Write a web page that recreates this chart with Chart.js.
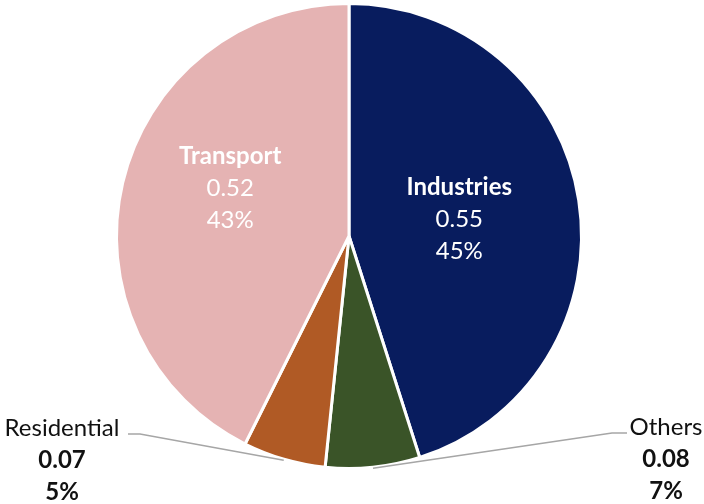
<!DOCTYPE html>
<html>
<head>
<meta charset="utf-8">
<title>Energy use by sector</title>
<script src="https://cdn.jsdelivr.net/npm/chart.js@4"></script>
<style>
  html, body { margin: 0; padding: 0; background: #fff; }
  #wrap { width: 704px; height: 504px; }
</style>
</head>
<body>
<div id="wrap"><canvas id="pie"></canvas></div>
<script>
const sectors = ['Industries', 'Others', 'Residential', 'Transport'];
const consumption = [0.55, 0.08, 0.07, 0.52];
const shareLabels = ['45%', '7%', '5%', '43%'];
const sliceColors = ['#081c5e', '#3a5428', '#b05a25', '#e5b3b3'];

// how each slice gets its label: inside at a fraction of the radius,
// or outside with a leader line running to an elbow and a text block
const labelStyle = [
  { inside: true, frac: 0.48, turn: 0 },
  { inside: false, elbow: [612, 433], tail: 627, textX: 666 },
  { inside: false, elbow: [140, 434], tail: 128, textX: 62 },
  { inside: true, frac: 0.55, turn: 8.4 }
];

const FONT = 'Lato, "Open Sans", sans-serif';
const SIZE = 24;
const LINE = 32;

const sliceLabels = {
  id: 'sliceLabels',
  afterDatasetsDraw(chart) {
    const ctx = chart.ctx;
    const arcs = chart.getDatasetMeta(0).data;
    ctx.save();
    ctx.textAlign = 'center';
    ctx.textBaseline = 'middle';
    arcs.forEach((arc, i) => {
      const style = labelStyle[i];
      const mid = (arc.startAngle + arc.endAngle) / 2;
      const value = consumption[i].toFixed(2);
      if (style.inside) {
        const a = mid + style.turn * Math.PI / 180;
        const r = arc.outerRadius * style.frac;
        const x = arc.x + Math.cos(a) * r;
        const y = arc.y + Math.sin(a) * r;
        ctx.fillStyle = '#ffffff';
        ctx.font = `bold ${SIZE}px ${FONT}`;
        ctx.fillText(sectors[i], x, y - LINE);
        ctx.font = `${SIZE}px ${FONT}`;
        ctx.fillText(value, x, y);
        ctx.fillText(shareLabels[i], x, y + LINE);
      } else {
        const sx = arc.x + Math.cos(mid) * (arc.outerRadius + 1);
        const sy = arc.y + Math.sin(mid) * (arc.outerRadius + 1);
        ctx.strokeStyle = '#a6a6a6';
        ctx.lineWidth = 1.5;
        ctx.beginPath();
        ctx.moveTo(sx, sy);
        ctx.lineTo(style.elbow[0], style.elbow[1]);
        ctx.lineTo(style.tail, style.elbow[1]);
        ctx.stroke();
        const ty = style.elbow[1] - 6;
        ctx.fillStyle = '#111111';
        ctx.font = `${SIZE}px ${FONT}`;
        ctx.fillText(sectors[i], style.textX, ty);
        ctx.font = `bold ${SIZE}px ${FONT}`;
        ctx.fillText(value, style.textX, ty + LINE);
        ctx.fillText(shareLabels[i], style.textX, ty + LINE * 2);
      }
    });
    ctx.restore();
  }
};

new Chart(document.getElementById('pie'), {
  type: 'pie',
  data: {
    labels: sectors,
    datasets: [{
      data: consumption,
      backgroundColor: sliceColors,
      borderColor: '#ffffff',
      borderWidth: 3
    }]
  },
  options: {
    responsive: true,
    maintainAspectRatio: false,
    animation: false,
    layout: { padding: { left: 0, right: 6, top: 2, bottom: 34 } },
    plugins: {
      legend: { display: false },
      tooltip: { enabled: false }
    }
  },
  plugins: [sliceLabels]
});
</script>
</body>
</html>
